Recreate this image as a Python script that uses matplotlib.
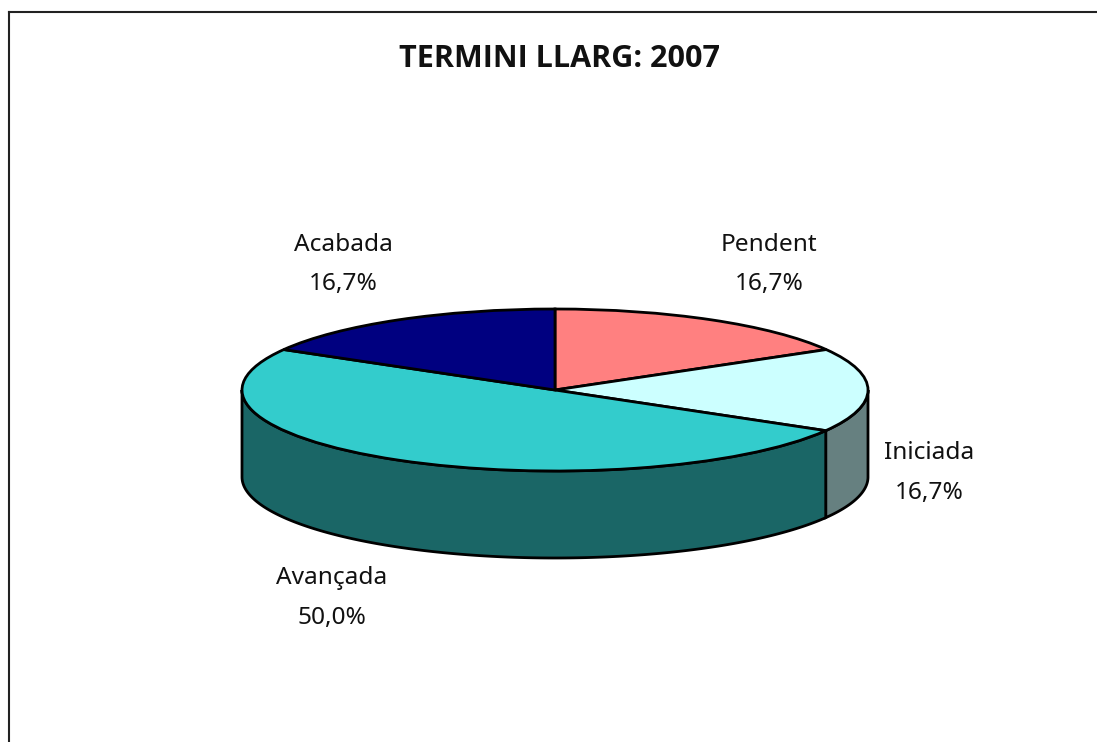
#!/usr/bin/env python3
"""Termini llarg 2007: tilted pie with side wall."""

import matplotlib
matplotlib.use("Agg")
import matplotlib.pyplot as plt
import numpy as np

title = "TERMINI LLARG: 2007"
labels = ["Pendent", "Iniciada", "Avançada", "Acabada"]
values = [16.7, 16.7, 50.0, 16.7]
pct_labels = ["16,7%", "16,7%", "50,0%", "16,7%"]
top_colors = ["#FF8080", "#CCFFFF", "#33CCCC", "#000080"]
wall_colors = ["#804040", "#668080", "#1A6666", "#000040"]

W, H = 1097, 742
CX, CY, RX, RY = 555, 390, 313, 81
DEPTH = 87 / RY
EDGE = 2.0

fig = plt.figure(figsize=(W / 100, H / 100), dpi=100)
plt.rcParams["font.family"] = ["Noto Sans", "DejaVu Sans"]

# axes spans the pie's bounding box so unit circle turns into the flattened ellipse
ax = fig.add_axes([(CX - RX) / W, 1 - (CY + RY) / H, 2 * RX / W, 2 * RY / H])
ax.pie(values, colors=top_colors, startangle=90, counterclock=False, radius=1,
       wedgeprops={"edgecolor": "black", "linewidth": EDGE, "zorder": 3})
ax.set_aspect("auto")
ax.set_xlim(-1, 1)
ax.set_ylim(-1, 1)
ax.axis("off")
for p in ax.patches:
    p.set_clip_on(False)

# side wall, only the front half of the rim (90..270 deg clockwise from top)
edges = np.cumsum([0] + values) / sum(values) * 360
for i in range(len(values)):
    a0 = max(edges[i], 90)
    a1 = min(edges[i + 1], 270)
    if a1 <= a0:
        continue
    th = np.radians(np.linspace(a0, a1, 200))
    x = np.sin(th)
    y = np.cos(th)
    ax.fill(np.r_[x, x[::-1]], np.r_[y, y[::-1] - DEPTH], facecolor=wall_colors[i],
            edgecolor="black", linewidth=EDGE, zorder=1, clip_on=False)

# frame: only top and left lines show
fig.add_artist(plt.Line2D([8.5 / W, 8.5 / W], [0, 1 - 11.5 / H], color="#222222", lw=1.5))
fig.add_artist(plt.Line2D([8.5 / W, 1], [1 - 11.5 / H, 1 - 11.5 / H], color="#222222", lw=1.5))

FS = 17.6
fig.text(559.5 / W, 1 - 59 / H, title, ha="center", va="center", fontsize=22,
         fontweight="bold", family=["Open Sans", "DejaVu Sans"], color="#111111")

label_pos = [(769, 245, 284), (929, 453, 493), (332, 578, 618), (343, 245, 284)]
for lab, pct, (lx, ly1, ly2) in zip(labels, pct_labels, label_pos):
    fig.text(lx / W, 1 - ly1 / H, lab, ha="center", va="center", fontsize=FS, color="#111111")
    fig.text(lx / W, 1 - ly2 / H, pct, ha="center", va="center", fontsize=FS, color="#111111")

fig.savefig("out.png", dpi=100, facecolor="white")
